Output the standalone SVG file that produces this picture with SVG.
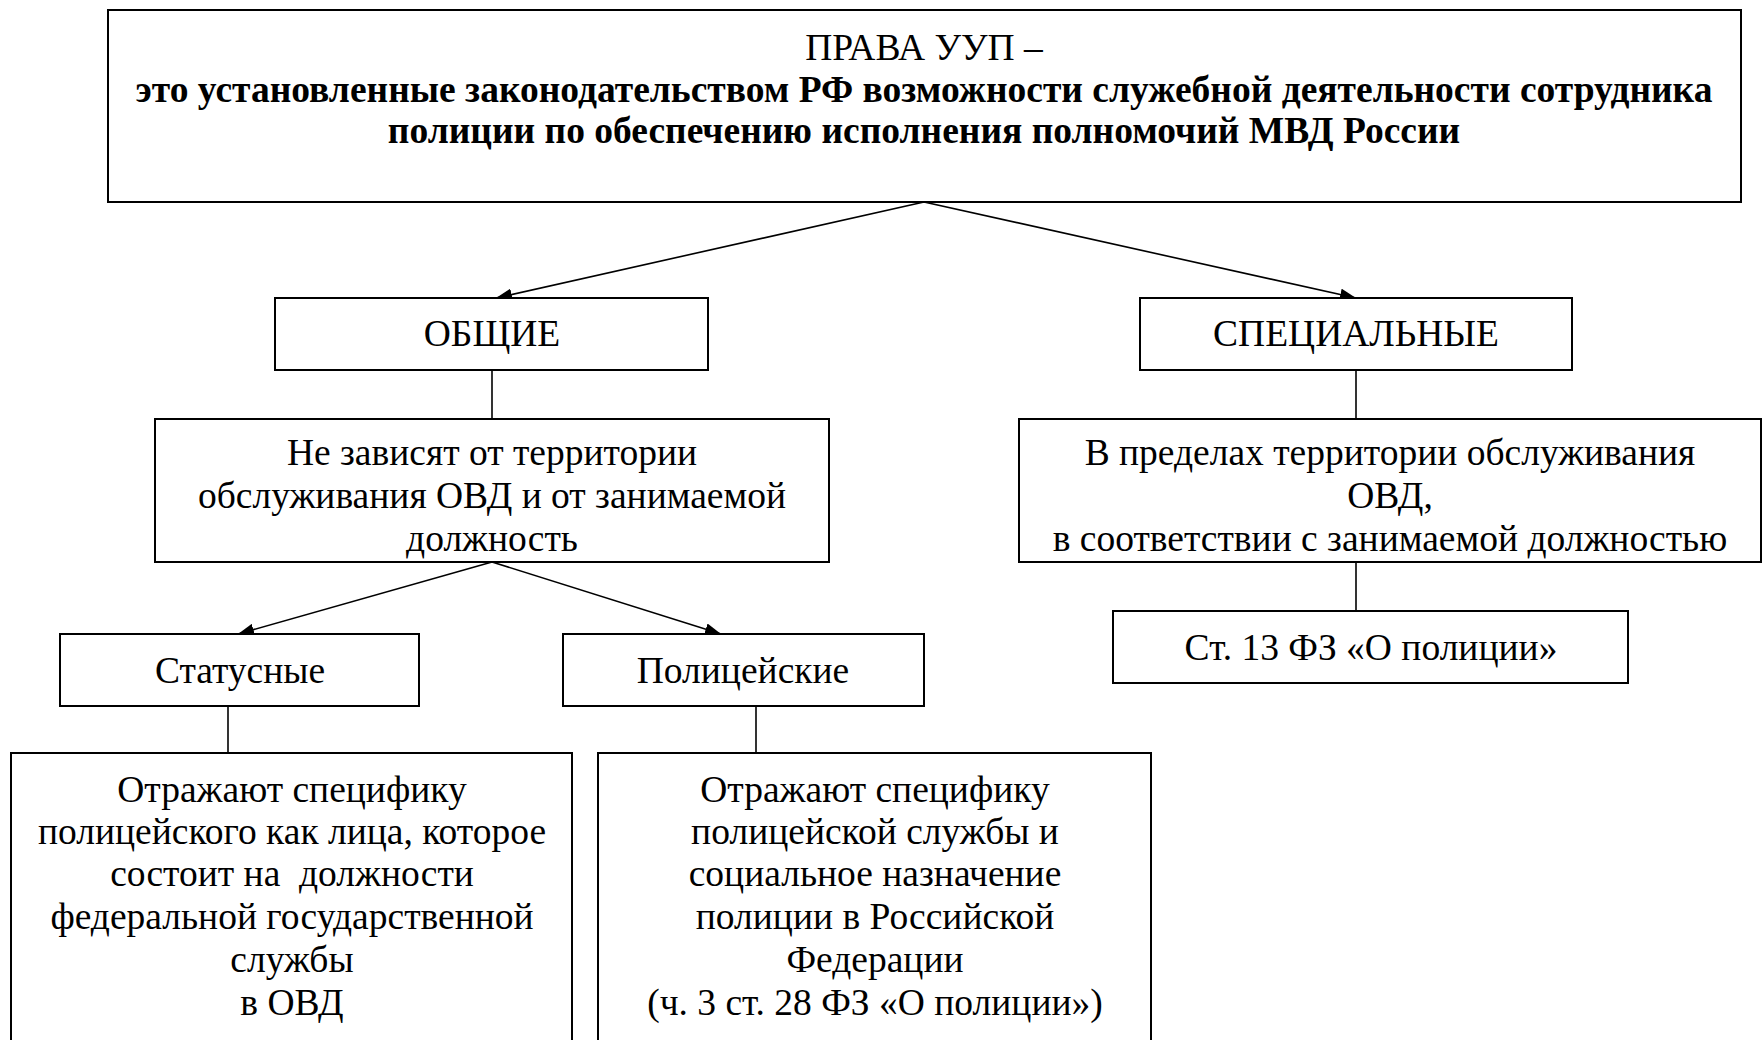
<svg xmlns="http://www.w3.org/2000/svg" width="1763" height="1040" viewBox="0 0 1763 1040">
<style>
.box{fill:#fff;stroke:#000;stroke-width:2}
.t{font-family:"Liberation Serif","Times New Roman",serif;font-size:37.5px;fill:#000;text-anchor:middle}
.b{font-weight:bold}
.c{stroke:#000;stroke-width:1.6;fill:none}
</style>
<defs>
<marker id="arr" viewBox="0 0 16 12" refX="16" refY="6" markerWidth="16" markerHeight="12" markerUnits="userSpaceOnUse" orient="auto">
<path d="M0,0 L16,6 L0,12 Z" fill="#000"/>
</marker>
</defs>
<rect width="1763" height="1040" fill="#fff"/>
<g id="connectors">
<line class="c" x1="924" y1="202" x2="496" y2="298" marker-end="url(#arr)"/>
<line class="c" x1="924" y1="202" x2="1356" y2="298" marker-end="url(#arr)"/>
<line class="c" x1="492" y1="370" x2="492" y2="419"/>
<line class="c" x1="1356" y1="370" x2="1356" y2="419"/>
<line class="c" x1="492" y1="562" x2="238" y2="634" marker-end="url(#arr)"/>
<line class="c" x1="492" y1="562" x2="721" y2="634" marker-end="url(#arr)"/>
<line class="c" x1="228" y1="706" x2="228" y2="753"/>
<line class="c" x1="756" y1="706" x2="756" y2="753"/>
<line class="c" x1="1356" y1="562" x2="1356" y2="611"/>
</g>
<g id="root">
<rect class="box" x="108" y="10" width="1633" height="192"/>
<text class="t" x="924" y="60">ПРАВА УУП –</text>
<text class="t b" x="924" y="102">это установленные законодательством РФ возможности служебной деятельности сотрудника</text>
<text class="t b" x="924" y="143">полиции по обеспечению исполнения полномочий МВД России</text>
</g>
<g id="general">
<rect class="box" x="275" y="298" width="433" height="72"/>
<text class="t" x="492" y="346">ОБЩИЕ</text>
</g>
<g id="special">
<rect class="box" x="1140" y="298" width="432" height="72"/>
<text class="t" x="1356" y="346">СПЕЦИАЛЬНЫЕ</text>
</g>
<g id="general-desc">
<rect class="box" x="155" y="419" width="674" height="143"/>
<text class="t" x="492" y="465">Не зависят от территории</text>
<text class="t" x="492" y="508">обслуживания ОВД и от занимаемой</text>
<text class="t" x="492" y="551">должность</text>
</g>
<g id="special-desc">
<rect class="box" x="1019" y="419" width="742" height="143"/>
<text class="t" x="1390" y="465">В пределах территории обслуживания</text>
<text class="t" x="1390" y="508">ОВД,</text>
<text class="t" x="1390" y="551">в соответствии с занимаемой должностью</text>
</g>
<g id="status">
<rect class="box" x="60" y="634" width="359" height="72"/>
<text class="t" x="240" y="683">Статусные</text>
</g>
<g id="police">
<rect class="box" x="563" y="634" width="361" height="72"/>
<text class="t" x="743" y="683">Полицейские</text>
</g>
<g id="art13">
<rect class="box" x="1113" y="611" width="515" height="72"/>
<text class="t" x="1371" y="660">Ст. 13 ФЗ «О полиции»</text>
</g>
<g id="status-desc">
<rect class="box" x="11" y="753" width="561" height="300"/>
<text class="t" x="292" y="802">Отражают специфику</text>
<text class="t" x="292" y="844">полицейского как лица, которое</text>
<text class="t" x="292" y="886" xml:space="preserve">состоит на  должности</text>
<text class="t" x="292" y="929">федеральной государственной</text>
<text class="t" x="292" y="972">службы</text>
<text class="t" x="292" y="1015">в ОВД</text>
</g>
<g id="police-desc">
<rect class="box" x="598" y="753" width="553" height="300"/>
<text class="t" x="875" y="802">Отражают специфику</text>
<text class="t" x="875" y="844">полицейской службы и</text>
<text class="t" x="875" y="886">социальное назначение</text>
<text class="t" x="875" y="929">полиции в Российской</text>
<text class="t" x="875" y="972">Федерации</text>
<text class="t" x="875" y="1015">(ч. 3 ст. 28 ФЗ «О полиции»)</text>
</g>
</svg>
